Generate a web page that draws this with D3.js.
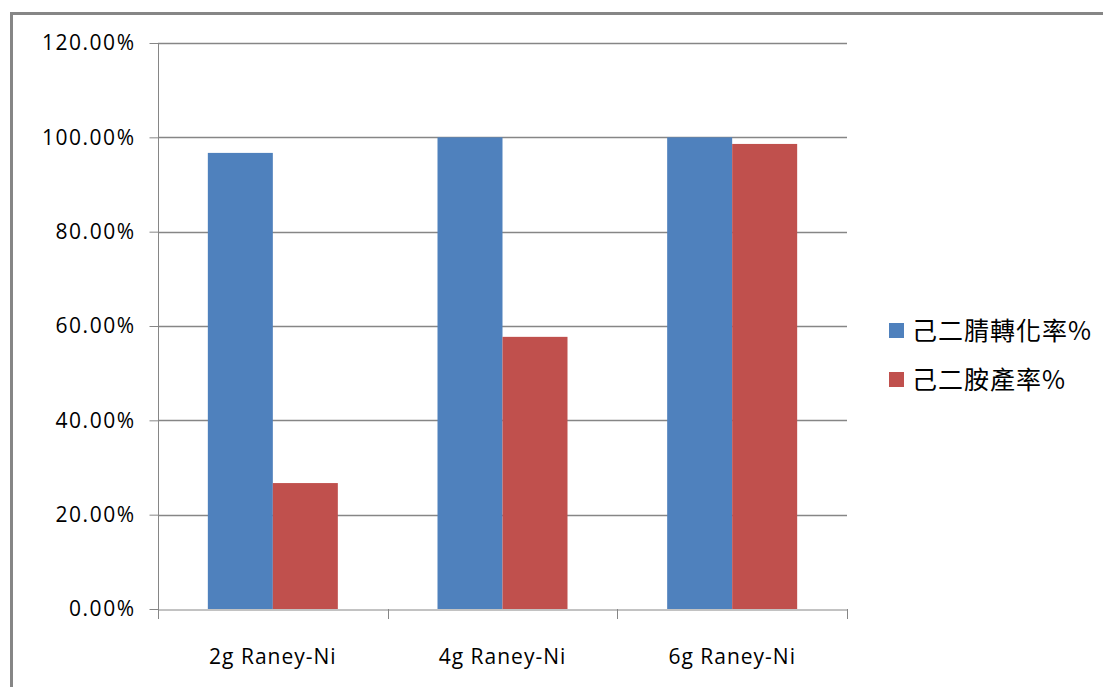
<!DOCTYPE html>
<html>
<head>
<meta charset="utf-8">
<script src="https://cdn.jsdelivr.net/npm/d3@7"></script>
<style>
  html, body { margin: 0; padding: 0; background: #fff; }
  svg { display: block; }
</style>
</head>
<body>
<svg id="chart" width="1103" height="687"></svg>
<script>
// Catalyst loading and the resulting conversion / yield (percent)
const categories = ["2g Raney-Ni", "4g Raney-Ni", "6g Raney-Ni"];
const seriesNames = ["己二腈轉化率%", "己二胺產率%"];
const conversion = [96.7, 100.0, 100.0];
const yieldPct = [26.7, 57.7, 98.6];
const yTicks = [0, 20, 40, 60, 80, 100, 120];
const colors = ["#4F81BD", "#C0504D"];

const seriesValues = [conversion, yieldPct];

const svg = d3.select("#chart");
const W = 1103, H = 687;
const margin = { left: 158, right: W - 847, top: 43, bottom: H - 609 };

// Outer chart frame (runs off the right and bottom edges)
svg.append("rect")
  .attr("x", 11.5).attr("y", 13.5)
  .attr("width", W + 20).attr("height", H + 20)
  .attr("fill", "#fff")
  .attr("stroke", "#868686").attr("stroke-width", 3);

const x0 = d3.scaleBand()
  .domain(categories)
  .range([margin.left, W - margin.right])
  .paddingInner(0).paddingOuter(0);

const barW = 65;
const x1 = d3.scaleBand()
  .domain(d3.range(seriesNames.length))
  .range([0, barW * 2]);

const y = d3.scaleLinear()
  .domain([0, 120])
  .range([H - margin.bottom, margin.top]);

// Horizontal gridlines
svg.append("g")
  .selectAll("line")
  .data(yTicks.filter(d => d > 0))
  .join("line")
  .attr("x1", margin.left).attr("x2", W - margin.right)
  .attr("y1", d => Math.round(y(d)) + 0.5)
  .attr("y2", d => Math.round(y(d)) + 0.5)
  .attr("stroke", "#868686").attr("stroke-width", 1.3);

// Bars
const groups = svg.append("g")
  .selectAll("g")
  .data(categories)
  .join("g")
  .attr("transform", d => `translate(${x0(d) + (x0.bandwidth() - barW * 2) / 2},0)`);

groups.selectAll("rect")
  .data((d, i) => seriesValues.map((vals, s) => ({ s, v: vals[i] })))
  .join("rect")
  .attr("x", d => x1(d.s))
  .attr("width", x1.bandwidth())
  .attr("y", d => y(d.v))
  .attr("height", d => y(0) - y(d.v))
  .attr("fill", d => colors[d.s]);

// Y axis
const yAxis = svg.append("g")
  .attr("transform", `translate(${margin.left + 0.5},0)`)
  .call(d3.axisLeft(y)
    .tickValues(yTicks)
    .tickSize(9)
    .tickPadding(14)
    .tickFormat(d => d.toFixed(2) + "%"));
yAxis.select(".domain").attr("stroke", "#868686").attr("d", `M0,${y(120)}V${y(0)}`);
yAxis.selectAll(".tick line").attr("stroke", "#868686");
yAxis.selectAll(".tick text")
  .attr("fill", "#000")
  .style("font-family", "'Open Sans', sans-serif")
  .style("font-size", "21px")
  .style("letter-spacing", "1.5px");

// X axis
const xAxis = svg.append("g")
  .attr("transform", `translate(0,${y(0) + 0.5})`)
  .call(d3.axisBottom(x0).tickSize(0).tickPadding(40));
xAxis.select(".domain").attr("stroke", "#868686");
xAxis.selectAll(".tick text")
  .attr("fill", "#000")
  .style("font-family", "'Open Sans', sans-serif")
  .style("font-size", "21px")
  .style("letter-spacing", "1px");

// Category separators on the x axis
const bounds = [margin.left, ...categories.map(c => x0(c) + x0.bandwidth())];
svg.append("g")
  .selectAll("line")
  .data(bounds)
  .join("line")
  .attr("x1", d => Math.round(d) + 0.5).attr("x2", d => Math.round(d) + 0.5)
  .attr("y1", y(0)).attr("y2", y(0) + 10)
  .attr("stroke", "#868686");

// Legend
const legend = svg.append("g")
  .selectAll("g")
  .data(seriesNames)
  .join("g")
  .attr("transform", (d, i) => `translate(889,${323 + i * 49})`);
legend.append("rect")
  .attr("width", 15).attr("height", 15)
  .attr("fill", (d, i) => colors[i]);
legend.append("text")
  .attr("x", 23).attr("y", 17)
  .attr("fill", "#000")
  .style("font-family", "'Noto Sans CJK TC', sans-serif")
  .style("font-size", "25px")
  .style("letter-spacing", "1px")
  .text(d => d);
</script>
</body>
</html>
